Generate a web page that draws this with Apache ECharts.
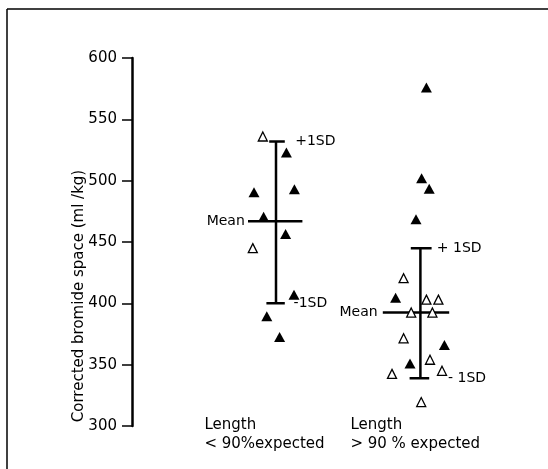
<!DOCTYPE html>
<html>
<head>
<meta charset="utf-8">
<script src="https://cdn.jsdelivr.net/npm/echarts@6/dist/echarts.min.js"></script>
<style>
html,body{margin:0;padding:0;background:#fff;}
#chart{width:548px;height:469px;}
</style>
</head>
<body>
<div id="chart"></div>
<script>
// ---- Data ----
const groupLabels = ['Length\n< 90%expected', 'Length\n> 90 % expected'];
const groupCenters = [36.0, 72.1];           // x position of each group (arbitrary horizontal units)
const yTicks = [300, 350, 400, 450, 500, 550, 600];

// [horizontal jitter, value (ml/kg)]
const g1Filled = [[2.6, 523], [-5.5, 490.5], [4.6, 493], [-3.1, 470.5], [2.4, 456.5], [4.5, 407], [-2.3, 389.5], [0.9, 372.5]];
const g1Open   = [[-3.3, 536], [-5.8, 445]];
const g2Filled = [[1.5, 576], [0.3, 502], [2.2, 493.5], [-1.1, 468.5], [-6.2, 404.5], [6.0, 366], [-2.6, 351]];
const g2Open   = [[-4.2, 420.5], [1.5, 403], [4.5, 403], [-2.3, 392.5], [3.0, 392.5], [-4.2, 371.5], [2.4, 354], [-7.1, 342.5], [5.4, 345], [0.2, 319.5]];

const means   = [467, 392.5];
const plusSD  = [532, 445];
const minusSD = [400, 339];
</script>
<script>
const FONT = 'DejaVu Sans';
const INK = '#000';
const meanExt  = [[-7.0, 6.6], [-9.4, 7.2]];
const plusExt  = [[-1.7, 2.2], [-2.4, 2.8]];
const minusExt = [[-2.4, 2.2], [-2.7, 2.2]];

function pts(arr, gi) { return arr.map(d => [groupCenters[gi] + d[0], d[1]]); }

const lineStyle = { color: INK, width: 2.5, opacity: 1 };
const series = [];
function seg(a, b) {
  series.push({ type: 'line', data: [a, b], symbol: 'none', lineStyle: lineStyle, silent: true, z: 2, animation: false });
}
for (let g = 0; g < 2; g++) {
  const c = groupCenters[g];
  seg([c, plusSD[g]], [c, minusSD[g]]);
  seg([c + plusExt[g][0], plusSD[g]], [c + plusExt[g][1], plusSD[g]]);
  seg([c + meanExt[g][0], means[g]], [c + meanExt[g][1], means[g]]);
  seg([c + minusExt[g][0], minusSD[g]], [c + minusExt[g][1], minusSD[g]]);
}
series.push({
  type: 'scatter', symbol: 'triangle', symbolSize: [11, 10],
  itemStyle: { color: INK, opacity: 1 }, z: 3, animation: false,
  data: pts(g1Filled, 0).concat(pts(g2Filled, 1))
});
series.push({
  type: 'scatter', symbol: 'triangle', symbolSize: [9, 9],
  itemStyle: { color: '#fff', borderColor: INK, borderWidth: 1.3, opacity: 1 }, z: 4, animation: false,
  data: pts(g1Open, 0).concat(pts(g2Open, 1))
});

// annotations: text anchored at data coordinates
const annRight = [
  [groupCenters[0] + 4.8, plusSD[0], '+1SD'],
  [groupCenters[0] + 4.4, minusSD[0], '-1SD'],
  [groupCenters[1] + 4.1, plusSD[1], '+ 1SD'],
  [groupCenters[1] + 6.9, minusSD[1], '- 1SD']
];
const annLeft = [
  [groupCenters[0] + meanExt[0][0] - 0.8, means[0], 'Mean'],
  [groupCenters[1] + meanExt[1][0] - 1.3, means[1], 'Mean']
];
const annStyle = { show: true, color: INK, fontFamily: FONT, fontSize: 14 };
const textItem = { opacity: 1 };
series.push({
  type: 'scatter', symbolSize: 0, silent: true, animation: false, itemStyle: textItem,
  data: annRight.map(a => ({ value: [a[0], a[1]], name: a[2] })),
  label: Object.assign({ position: 'inside', align: 'left', verticalAlign: 'middle', formatter: p => p.name }, annStyle)
});
series.push({
  type: 'scatter', symbolSize: 0, silent: true, animation: false, itemStyle: textItem,
  data: annLeft.map(a => ({ value: [a[0], a[1]], name: a[2] })),
  label: Object.assign({ position: 'inside', align: 'right', verticalAlign: 'middle', formatter: p => p.name }, annStyle)
});
series.push({
  type: 'scatter', symbolSize: 0, silent: true, animation: false, itemStyle: textItem,
  data: groupLabels.map((t, i) => ({ value: [groupCenters[i] - [17.9, 17.5][i], yTicks[0]], name: t })),
  label: { show: true, position: 'inside', align: 'left', verticalAlign: 'top', offset: [0, -10],
           lineHeight: 19, color: INK, fontFamily: FONT, fontSize: 15, formatter: p => p.name }
});

const chart = echarts.init(document.getElementById('chart'), null, { renderer: 'canvas' });
chart.setOption({
  backgroundColor: '#fff',
  animation: false,
  grid: { left: 132, right: 16, top: 58, bottom: 43 },
  xAxis: { type: 'value', min: 0, max: 100, show: false },
  yAxis: {
    type: 'value', min: yTicks[0], max: yTicks[yTicks.length - 1], interval: 50,
    axisLine: { show: true, lineStyle: { color: INK, width: 2.5 } },
    axisTick: { show: true, length: 10, lineStyle: { color: INK, width: 1.5 } },
    axisLabel: { color: INK, fontFamily: FONT, fontSize: 15, margin: 15 },
    splitLine: { show: false }
  },
  graphic: [
    { type: 'line', shape: { x1: 7, y1: 9, x2: 548, y2: 9 }, style: { stroke: INK, lineWidth: 1.5 } },
    { type: 'line', shape: { x1: 7, y1: 9, x2: 7, y2: 469 }, style: { stroke: INK, lineWidth: 1.5 } },
    { type: 'text', x: 79, y: 296, rotation: Math.PI / 2,
      style: { text: 'Corrected bromide space (ml /kg)', fill: INK, font: '15px "DejaVu Sans"',
               textAlign: 'center', textVerticalAlign: 'middle' } }
  ],
  series: series
});
</script>
</body>
</html>
